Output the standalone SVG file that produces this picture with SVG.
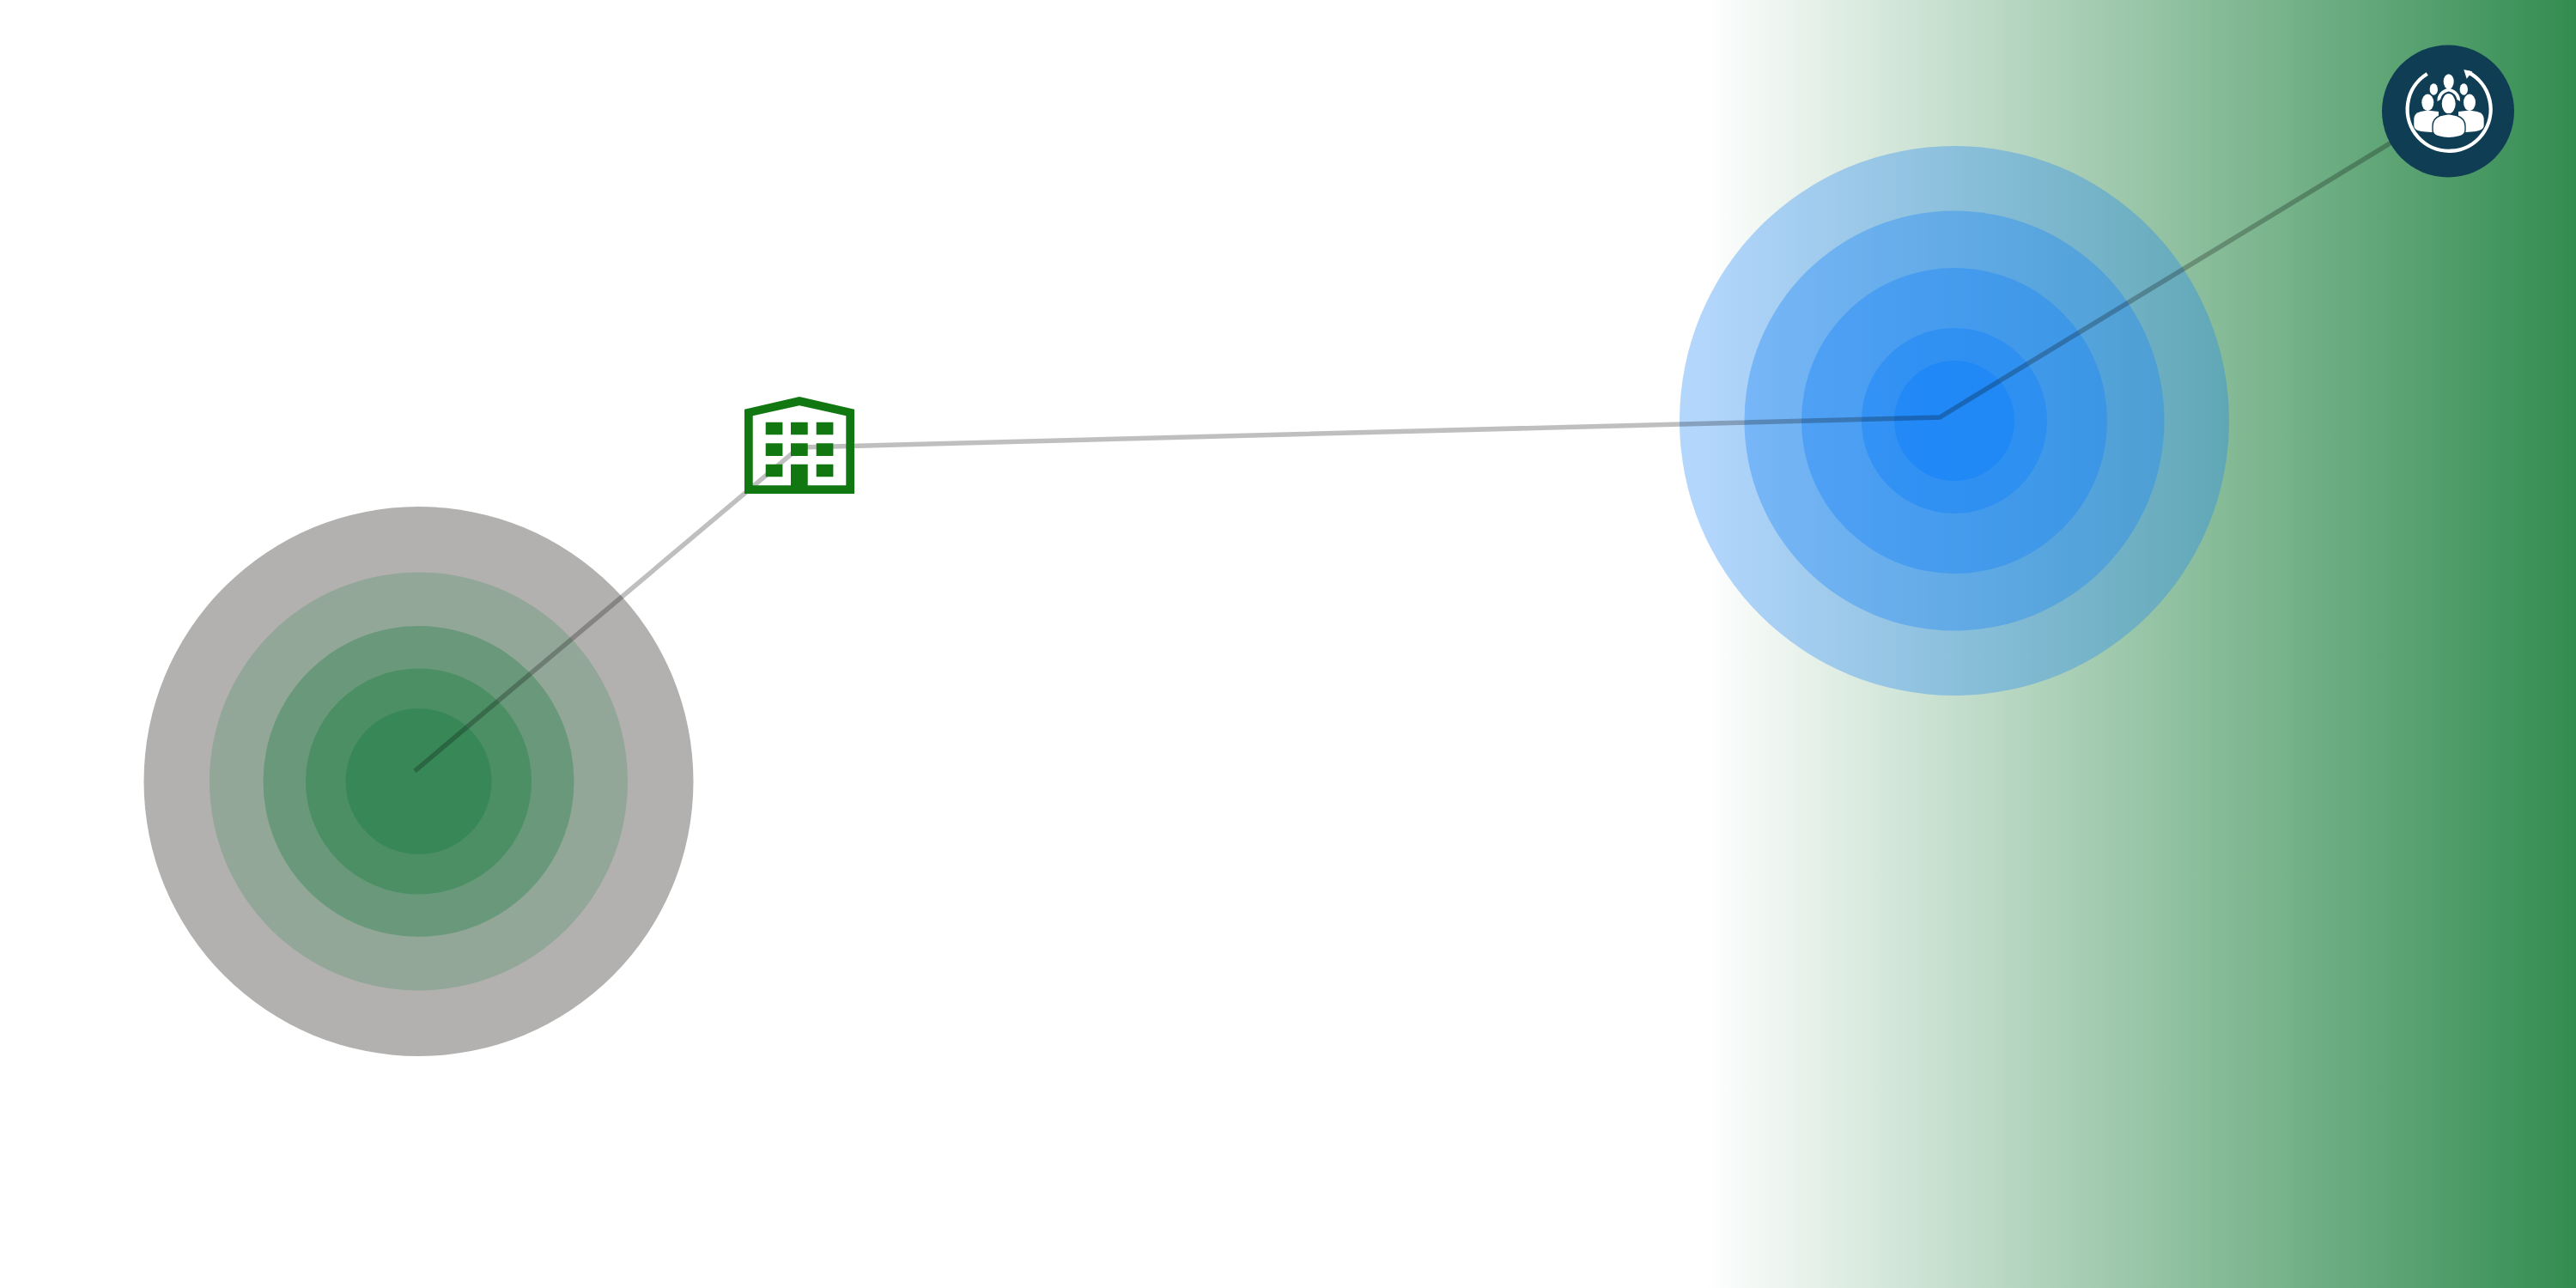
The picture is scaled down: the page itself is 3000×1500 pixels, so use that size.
<svg xmlns="http://www.w3.org/2000/svg" width="3000" height="1500" viewBox="0 0 3000 1500">
<style>
.g{fill:#117711}
.w{fill:#fff}
.b{fill:#1884f9}
.gc{fill:#2c844e}
.d{fill:#fff;stroke:#0f3d54;stroke-width:1.4}
</style>
<defs>
<linearGradient id="bg" gradientUnits="userSpaceOnUse" x1="1985" y1="0" x2="3000" y2="0">
<stop offset="0" stop-color="#328c50" stop-opacity="0"/>
<stop offset="1" stop-color="#328c50"/>
</linearGradient>
</defs>
<rect width="3000" height="1500" fill="#fff"/>
<rect id="backdrop" x="1985" width="1015" height="1500" fill="url(#bg)"/>
<g id="target-left">
<circle cx="487.5" cy="910" r="320" fill="#b2b1af"/>
<circle cx="487.5" cy="910" r="243.5" class="gc" opacity=".23"/>
<circle cx="487.5" cy="910" r="181" class="gc" opacity=".40"/>
<circle cx="487.5" cy="910" r="131.5" class="gc" opacity=".47"/>
<circle cx="487.5" cy="910" r="85" class="gc" opacity=".6"/>
</g>
<g id="target-right">
<circle cx="2276" cy="490" r="320" class="b" opacity=".33"/>
<circle cx="2276" cy="490" r="244.5" class="b" opacity=".36"/>
<circle cx="2276" cy="490" r="178" class="b" opacity=".38"/>
<circle cx="2276" cy="490" r="108" class="b" opacity=".46"/>
<circle cx="2276" cy="490" r="70" class="b" opacity=".62"/>
</g>
<g id="connectors">
<polyline points="483,898 931,521 2259,486 2854,124" fill="none" stroke="#000" stroke-opacity=".25" stroke-width="5.5"/>
</g>
<g id="building">
<path class="g" fill-rule="evenodd" d="M867,476.7 931,462 995,476.7V575H867ZM876.7,484.3 931,472.3 985.3,484.3V565.3H940.7V540.7H921V565.3H876.7Z"/>
<path class="g" d="M891.7,491.7h19.7v14.6h-19.7zM921,491.7h19.7v14.6H921zM950.7,491.7h19.7v14.6h-19.7zM891.7,516.3h19.7v14.7h-19.7zM921,516.3h19.7v14.7H921zM950.7,516.3h19.7v14.7h-19.7zM891.7,540.7h19.7v14.6h-19.7zM950.7,540.7h19.7v14.6h-19.7z"/>
</g>
<g id="people">
<circle cx="2851" cy="129.5" r="77" fill="#0f3d54"/>
<path d="M2826.7,86A48.5,48.5 0 1 0 2874,84" fill="none" stroke="#fff" stroke-width="4.3"/>
<path class="w" d="M2869.3,81 2879.3,83.3 2872.7,91.7Z"/>
<g class="w">
<ellipse cx="2851.7" cy="95" rx="6" ry="8.7"/>
<ellipse cx="2834.3" cy="104" rx="4.7" ry="6.7"/>
<ellipse cx="2869.3" cy="104" rx="4.7" ry="6.7"/>
<path d="M2838.5,118Q2838,106 2851.7,102.5Q2865.5,106 2865,118L2861.5,116Q2860,108 2851.7,106.5Q2843.5,108 2842,116Z"/>
<ellipse cx="2827.3" cy="119.3" rx="7" ry="9.7"/>
<ellipse cx="2876" cy="119.3" rx="7" ry="9.7"/>
<path d="M2811.3,142V138Q2811.5,132 2819,130L2827,128.5 2840,130V154Q2822,154 2816,152Q2811.3,150 2811.3,146Z"/>
<path d="M2892.7,142V138Q2892.5,132 2885,130L2876,128.5 2863,130V154Q2881,154 2887,152Q2892.7,150 2892.7,146Z"/>
<ellipse class="d" cx="2851.7" cy="120.7" rx="8.7" ry="12.3"/>
<path class="d" d="M2833,147Q2833,138 2842,134.5L2851.7,132.5 2861,134.5Q2871,138 2871,147V152Q2871,157 2864,159Q2851.7,162.5 2840,159Q2833,157 2833,152Z"/>
</g>
</g>
</svg>
